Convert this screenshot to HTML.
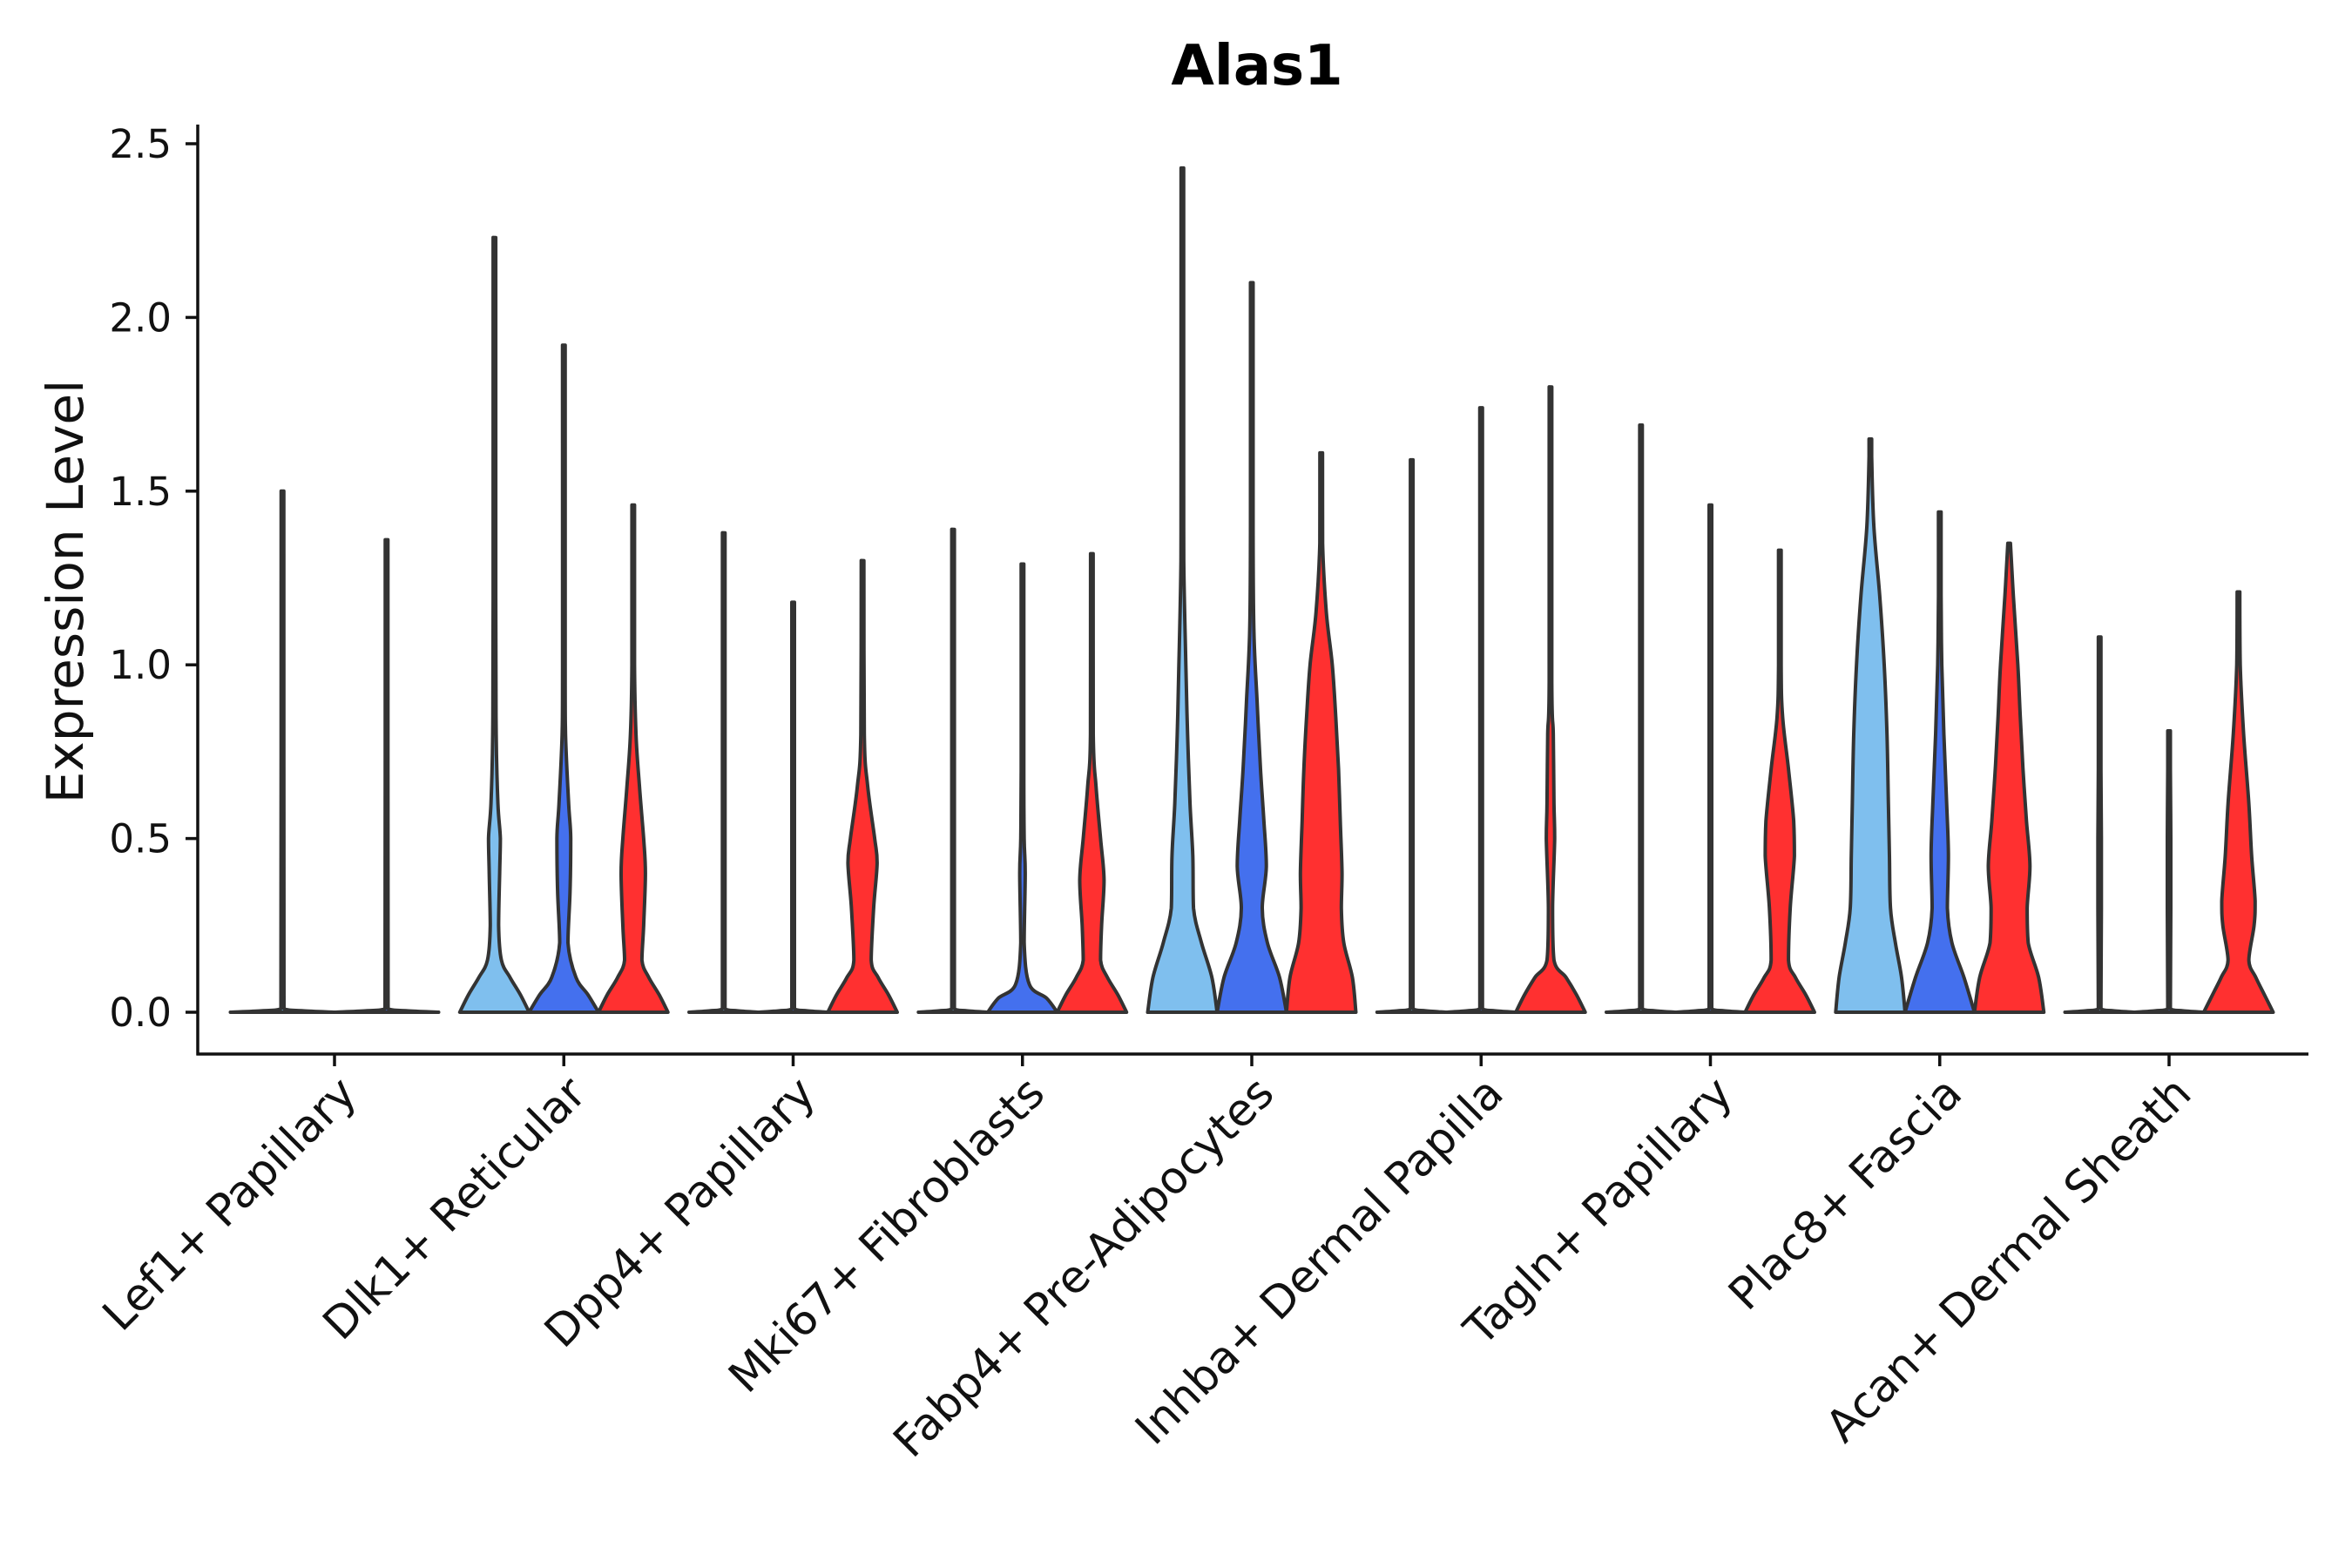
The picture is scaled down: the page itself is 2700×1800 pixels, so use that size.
<!DOCTYPE html>
<html><head><meta charset="utf-8"><style>
html,body{margin:0;padding:0;background:#fff;}
svg{display:block;font-family:"DejaVu Sans","Liberation Sans",sans-serif;}
</style></head><body>
<svg id="chart" width="2700" height="1800" viewBox="0 0 2700 1800">
<text x="1443" y="97" text-anchor="middle" font-size="64" font-weight="bold">Alas1</text>
<text transform="translate(95,679) rotate(-90)" text-anchor="middle" font-size="58" fill="#111">Expression Level</text>
<g id="plot"></g>
</svg>
<script>
const categories = ["Lef1+ Papillary","Dlk1+ Reticular","Dpp4+ Papillary","Mki67+ Fibroblasts","Fabp4+ Pre-Adipocytes","Inhba+ Dermal Papilla","Tagln+ Papillary","Plac8+ Fascia","Acan+ Dermal Sheath"];
const seriesNames = ["light","blue","red"];
const yTicks = [0,0.5,1.0,1.5,2.0,2.5];
const yTickLabels = ["0.0","0.5","1.0","1.5","2.0","2.5"];
const maxLight = [1.50,2.23,1.38,1.39,2.43,1.59,1.69,1.65,1.08];
const maxBlue  = [1.36,1.92,1.18,1.29,2.10,1.74,1.46,1.44,0.81];
const maxRed   = [null,1.46,1.30,1.32,1.61,1.80,1.33,1.35,1.21];
const flat = [[0,1],[0.004,0.4],[0.01,0.03]];
const profLight = [flat,
 [[0,1],[0.05,0.75],[0.1,0.45],[0.15,0.2],[0.25,0.12],[0.4,0.15],[0.5,0.17],[0.6,0.1],[0.8,0.05],[1.2,0.02]],
 flat, flat,
 [[0,1],[0.1,0.85],[0.2,0.55],[0.3,0.32],[0.45,0.3],[0.6,0.22],[0.8,0.15],[1.0,0.1],[1.3,0.04],[1.6,0.02]],
 flat, flat,
 [[0,1],[0.1,0.9],[0.2,0.72],[0.3,0.58],[0.45,0.55],[0.6,0.52],[0.8,0.48],[1.0,0.4],[1.2,0.27],[1.4,0.1],[1.6,0.03]],
 [[0,1],[0.004,0.4],[0.01,0.03],[0.3,0.05],[0.5,0.05],[0.7,0.02]]];
const profBlue = [flat,
 [[0,1],[0.05,0.7],[0.1,0.35],[0.2,0.12],[0.35,0.18],[0.5,0.2],[0.6,0.14],[0.8,0.05],[1.0,0.02]],
 flat,
 [[0,1],[0.04,0.7],[0.08,0.2],[0.2,0.05],[0.4,0.08],[0.5,0.05],[0.7,0.02]],
 [[0,1],[0.1,0.8],[0.2,0.45],[0.3,0.3],[0.42,0.42],[0.55,0.35],[0.7,0.25],[0.9,0.15],[1.1,0.06],[1.4,0.02]],
 flat, flat,
 [[0,1],[0.1,0.7],[0.2,0.35],[0.3,0.22],[0.45,0.25],[0.6,0.2],[0.8,0.12],[1.0,0.06],[1.2,0.03]],
 [[0,1],[0.004,0.4],[0.01,0.03],[0.3,0.05],[0.5,0.05],[0.7,0.02]]];
const profRed = [null,
 [[0,1],[0.05,0.75],[0.1,0.45],[0.15,0.25],[0.25,0.3],[0.4,0.35],[0.5,0.3],[0.65,0.18],[0.8,0.08],[1.0,0.03]],
 [[0,1],[0.05,0.75],[0.1,0.45],[0.15,0.25],[0.3,0.32],[0.43,0.42],[0.5,0.35],[0.65,0.15],[0.8,0.05]],
 [[0,1],[0.05,0.75],[0.1,0.45],[0.15,0.25],[0.25,0.28],[0.38,0.35],[0.5,0.25],[0.65,0.12],[0.8,0.04]],
 [[0,1],[0.1,0.9],[0.2,0.65],[0.3,0.58],[0.4,0.6],[0.55,0.55],[0.7,0.5],[0.85,0.42],[1.0,0.32],[1.15,0.15],[1.35,0.04]],
 [[0,1],[0.05,0.75],[0.1,0.45],[0.15,0.1],[0.3,0.06],[0.5,0.12],[0.6,0.1],[0.8,0.08],[0.95,0.03]],
 [[0,1],[0.05,0.75],[0.1,0.45],[0.15,0.25],[0.3,0.3],[0.45,0.42],[0.55,0.4],[0.7,0.25],[0.85,0.08],[1.0,0.03]],
 [[0,1],[0.1,0.85],[0.2,0.55],[0.3,0.52],[0.42,0.6],[0.55,0.5],[0.7,0.4],[0.85,0.32],[1.0,0.25],[1.2,0.12],[1.35,0.03]],
 [[0,1],[0.05,0.75],[0.1,0.5],[0.15,0.3],[0.25,0.45],[0.32,0.48],[0.45,0.38],[0.6,0.3],[0.8,0.15],[1.0,0.05]]];
const colors = {light:"#7fbfee", blue:"#4470ee", red:"#ff3030"};

const NS="http://www.w3.org/2000/svg";
const plot=document.getElementById('plot');
const X0=227, X1=2650, YB=1210;
const y=v=>1162 - v*398.8;
const gx=i=>384 + i*263.25;
const groupW=239;
function mk(tag,attrs){const e=document.createElementNS(NS,tag);for(const k in attrs)e.setAttribute(k,attrs[k]);plot.appendChild(e);return e;}
const clamp=(v,a,b)=>Math.min(Math.max(v,Math.min(a,b)),Math.max(a,b));
function smooth(pts){
  let d="";
  for(let k=0;k<pts.length-1;k++){
    const p0=pts[Math.max(k-1,0)],p1=pts[k],p2=pts[k+1],p3=pts[Math.min(k+2,pts.length-1)];
    const c1=[clamp(p1[0]+(p2[0]-p0[0])/6,p1[0],p2[0]),clamp(p1[1]+(p2[1]-p0[1])/6,p1[1],p2[1])];
    const c2=[clamp(p2[0]-(p3[0]-p1[0])/6,p1[0],p2[0]),clamp(p2[1]-(p3[1]-p1[1])/6,p1[1],p2[1])];
    d+="C"+c1.map(n=>n.toFixed(1))+" "+c2.map(n=>n.toFixed(1))+" "+p2.map(n=>n.toFixed(1));
  }
  return d;
}
categories.forEach((c,i)=>{
  const vs=[];
  if(maxLight[i]!=null) vs.push(["light",maxLight[i],profLight[i]]);
  if(maxBlue[i]!=null) vs.push(["blue",maxBlue[i],profBlue[i]]);
  if(maxRed[i]!=null && profRed[i]) vs.push(["red",maxRed[i],profRed[i]]);
  const slot=groupW/vs.length, hw=slot/2;
  vs.forEach((v,j)=>{
    const cx=gx(i)-groupW/2+slot*(j+0.5);
    const pts=v[2].filter(p=>p[0]<v[1]).concat([[v[1],0.012]]);
    let r=pts.map(p=>[cx+Math.max(p[1]*hw,1.5),y(p[0])]);
    let l=pts.slice().reverse().map(p=>[cx-Math.max(p[1]*hw,1.5),y(p[0])]);
    const d="M"+(cx-hw).toFixed(1)+","+y(0).toFixed(1)+"L"+r[0].join(",")+smooth(r)+"L"+l[0].join(",")+smooth(l)+"Z";
    const p=mk('path',{d:d,fill:colors[v[0]],stroke:"#333","stroke-width":4,"stroke-linejoin":"round"});
    
    
  });
  const t=mk('line',{x1:gx(i),x2:gx(i),y1:YB,y2:YB+14,stroke:"#111","stroke-width":3.5});
  
  
  const tx=mk('text',{transform:`translate(${gx(i)+28},${YB+48}) rotate(-45)`,"text-anchor":"end","font-size":51,fill:"#111"});
  tx.textContent=c;
  
  
});
yTicks.forEach((v,k)=>{
  const t=mk('line',{x1:X0-14,x2:X0,y1:y(v),y2:y(v),stroke:"#111","stroke-width":3.5});
  
  
  const tx=mk('text',{x:X0-30,y:y(v)+16,"text-anchor":"end","font-size":45,fill:"#111"});
  tx.textContent=yTickLabels[k];
  
  
});
const ya=mk('line',{x1:X0,x2:X0,y1:143,y2:YB+1.5,stroke:"#111","stroke-width":3.5});


const xa=mk('line',{x1:X0-1.5,x2:X1,y1:YB,y2:YB,stroke:"#111","stroke-width":3.5});


</script>
</body></html>
